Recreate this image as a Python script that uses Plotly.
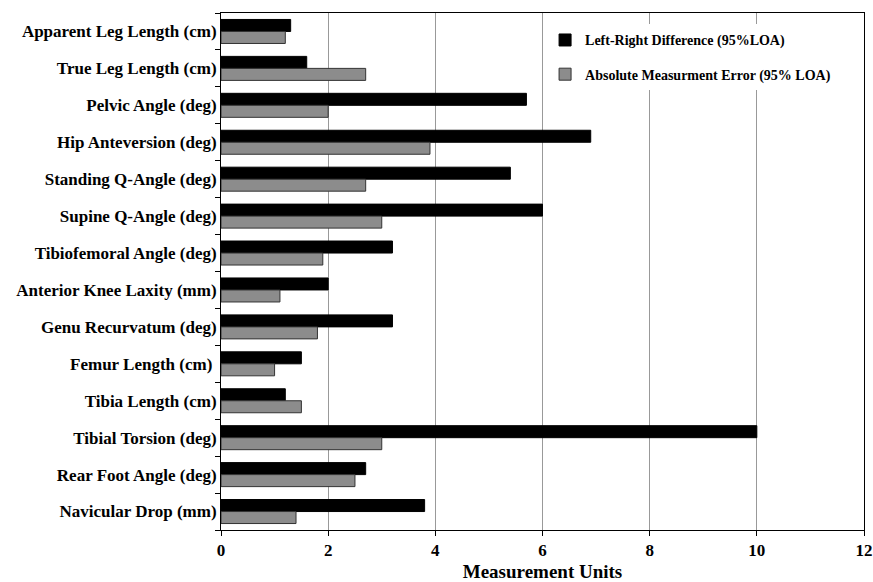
import plotly.graph_objects as go

categories = [
    "Apparent Leg Length (cm)",
    "True Leg Length (cm)",
    "Pelvic Angle (deg)",
    "Hip Anteversion (deg)",
    "Standing Q-Angle (deg)",
    "Supine Q-Angle (deg)",
    "Tibiofemoral Angle (deg)",
    "Anterior Knee Laxity (mm)",
    "Genu Recurvatum (deg)",
    "Femur Length (cm) ",
    "Tibia Length (cm)",
    "Tibial Torsion (deg)",
    "Rear Foot Angle (deg)",
    "Navicular Drop (mm)",
]
left_right_diff = [1.3, 1.6, 5.7, 6.9, 5.4, 6.0, 3.2, 2.0, 3.2, 1.5, 1.2, 10.0, 2.7, 3.8]
abs_meas_error = [1.2, 2.7, 2.0, 3.9, 2.7, 3.0, 1.9, 1.1, 1.8, 1.0, 1.5, 3.0, 2.5, 1.4]
x_ticks = [0, 2, 4, 6, 8, 10, 12]

font_family = "Liberation Serif, Times New Roman, serif"

fig = go.Figure()
fig.add_trace(go.Bar(
    y=categories, x=left_right_diff, orientation="h",
    name="<b>Left-Right Difference (95%LOA)</b>",
    marker=dict(color="#000000", line=dict(color="#000000", width=1)),
    legendgroup="a",
))
fig.add_trace(go.Bar(
    y=categories, x=abs_meas_error, orientation="h",
    name="<b>Absolute Measurment Error (95% LOA)</b>",
    marker=dict(color="#8c8c8c", line=dict(color="#333333", width=1)),
    legendgroup="b",
))

fig.update_layout(
    width=873, height=582,
    margin=dict(l=221, r=9, t=13, b=52, autoexpand=False),
    paper_bgcolor="white", plot_bgcolor="white",
    barmode="group", bargap=0.35, bargroupgap=0,
    font=dict(family=font_family, color="#000000"),
    showlegend=True,
    legend=dict(
        x=0.504, y=0.978, xanchor="left", yanchor="top",
        bgcolor="white", borderwidth=0,
        font=dict(size=14, family=font_family, color="#000000"),
        traceorder="grouped", tracegroupgap=13,
    ),
    xaxis=dict(
        range=[0, 12], tickvals=x_ticks,
        ticktext=[f"<b>{v}</b>" for v in x_ticks],
        showgrid=True, gridcolor="#999999", gridwidth=1,
        ticks="outside", ticklen=5, tickcolor="#000000",
        showline=True, linecolor="#000000", linewidth=1, mirror=True,
        zeroline=False, automargin=False, ticklabeloverflow="allow",
        tickfont=dict(size=17, family=font_family, color="#000000"),
        title=dict(text="<b>Measurement Units</b>", standoff=6,
                   font=dict(size=19, family=font_family, color="#000000")),
    ),
    yaxis=dict(
        autorange="reversed", automargin=False,
        tickmode="array", tickvals=categories,
        ticktext=[f"<b>{c}</b>" for c in categories],
        ticks="outside", ticklen=5, tickcolor="#000000", tickson="boundaries",
        showline=True, linecolor="#000000", linewidth=1, mirror=True,
        showgrid=False,
        tickfont=dict(size=17, family=font_family, color="#000000"),
    ),
)

fig.write_html(
    "out.html",
    config={"displayModeBar": False},
    post_script="document.body.style.margin='0';document.body.style.overflow='hidden';",
)
